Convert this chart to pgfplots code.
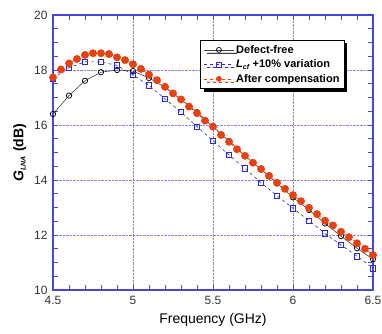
\documentclass[border=0pt]{standalone}
\usepackage{pgfplots}
\pgfplotsset{compat=1.18}
\usepackage{fontspec}
\setmainfont{Liberation Sans}
\usetikzlibrary{shadows}
\definecolor{axblue}{RGB}{70,70,220}
\definecolor{gridblue}{RGB}{130,130,240}
\definecolor{sqblue}{RGB}{40,40,230}
\definecolor{cred}{RGB}{232,64,16}
\begin{document}
\begin{tikzpicture}[x=1pt,y=1pt]
\begin{axis}[
  at={(0,0)}, anchor=south west,
  scale only axis, width=320pt, height=275pt,
  xmin=4.5, xmax=6.5, ymin=10, ymax=20,
  xtick={4.5,5,5.5,6,6.5}, ytick={10,12,...,20},
  minor x tick num=4, minor y tick num=3,
  xticklabels={4.5,5,5.5,6,6.5},
  yticklabels={10,12,14,16,18,20},
  tick align=inside,
  major tick length=5pt, minor tick length=5pt,
  axis line style={axblue, line width=1.2pt},
  every tick/.style={axblue, line width=0.8pt},
  grid=major,
  major grid style={gridblue, densely dotted, line width=0.6pt},
  tick label style={font=\fontsize{12}{12}\selectfont, color=black!80},
  xticklabel style={yshift=-3pt},
  yticklabel style={xshift=-2pt},
  xlabel={Frequency (GHz)},
  ylabel={\textbf{\textit{G}$_{\textit{\scriptsize LNA}}$ (dB)}},
  label style={font=\fontsize{14}{14}\selectfont},
  xlabel style={yshift=-1pt},
  ylabel style={yshift=1pt},
  legend style={at={(0.46,0.91)}, anchor=north west, draw=black, line width=0.8pt,
    fill=white, font=\fontsize{11}{12}\selectfont\bfseries, row sep=1pt,
    drop shadow={shadow xshift=3pt, shadow yshift=-3pt, opacity=1, fill=black},
    inner sep=3pt},
  legend cell align=left,
  legend image code/.code={\draw[mark repeat=2,mark phase=2, mark size=2.5pt] plot coordinates {(0pt,0pt) (15pt,0pt) (30pt,0pt)};},
]
\addplot[black!75, line width=0.6pt, mark=o, mark size=2.7pt, mark options={solid, line width=0.7pt, black}]
coordinates {(4.5,16.40) (4.6,17.07) (4.7,17.61) (4.8,17.92) (4.9,18.00) (5.0,17.96) (5.1,17.71) (5.2,17.37) (5.3,16.93) (5.4,16.47) (5.5,15.94) (5.6,15.42) (5.7,14.88) (5.8,14.39) (5.9,13.88) (6.0,13.37) (6.1,12.91) (6.2,12.42) (6.3,11.96) (6.4,11.52) (6.5,11.12)};
\addlegendentry{Defect-free}
\addplot[sqblue, line width=0.6pt, dashed, mark=square, mark size=2.7pt, mark options={solid, line width=0.7pt, sqblue}]
coordinates {(4.5,17.70) (4.6,18.08) (4.7,18.30) (4.8,18.29) (4.9,18.17) (5.0,17.82) (5.1,17.44) (5.2,16.95) (5.3,16.47) (5.4,15.94) (5.5,15.43) (5.6,14.91) (5.7,14.42) (5.8,13.90) (5.9,13.43) (6.0,12.97) (6.1,12.52) (6.2,12.06) (6.3,11.64) (6.4,11.23) (6.5,10.79)};
\addlegendentry{\textit{L}$_{\textit{\scriptsize cf}}$ +10\% variation}
\addplot[cred, line width=0.6pt, dashed, mark=*, mark size=3.6pt, mark options={solid, cred}]
coordinates {(4.5,17.73) (4.55,18.02) (4.6,18.24) (4.65,18.40) (4.7,18.55) (4.75,18.61) (4.8,18.61) (4.85,18.58) (4.9,18.46) (4.95,18.36) (5.0,18.21) (5.05,18.04) (5.1,17.83) (5.15,17.63) (5.2,17.39) (5.25,17.15) (5.3,16.93) (5.35,16.67) (5.4,16.43) (5.45,16.16) (5.5,15.94) (5.55,15.64) (5.6,15.39) (5.65,15.12) (5.7,14.88) (5.75,14.63) (5.8,14.40) (5.85,14.15) (5.9,13.90) (5.95,13.68) (6.0,13.45) (6.05,13.23) (6.1,12.99) (6.15,12.76) (6.2,12.52) (6.25,12.35) (6.3,12.12) (6.35,11.92) (6.4,11.70) (6.45,11.50) (6.5,11.27)};
\addlegendentry{After compensation}
\end{axis}
\pgfresetboundingbox
\path (-53,-43) rectangle (329,290);
\end{tikzpicture}
\end{document}
